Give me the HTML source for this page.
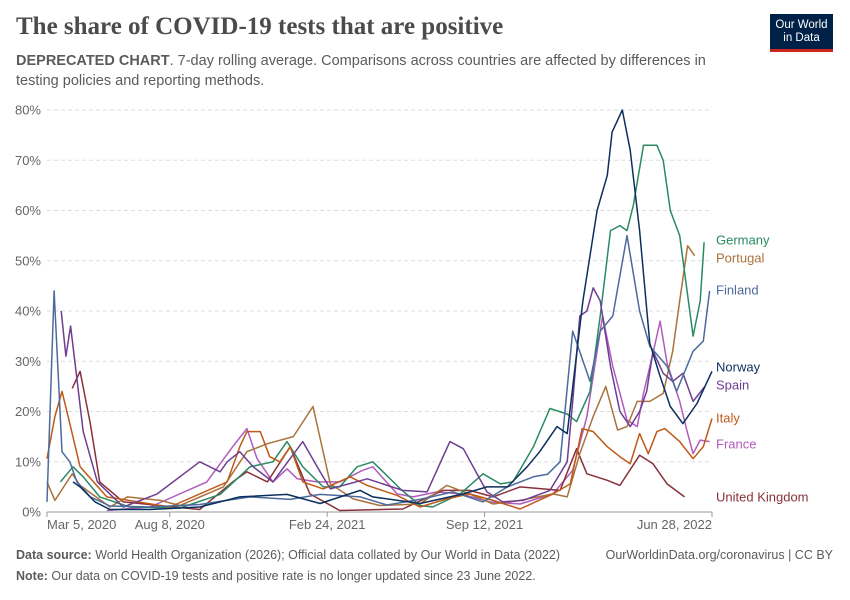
<!DOCTYPE html>
<html><head><meta charset="utf-8">
<style>
body{margin:0;background:#fff;width:850px;height:600px;overflow:hidden;font-family:"Liberation Sans",sans-serif;}
#title{position:absolute;left:16px;top:13px;font-family:"Liberation Serif",serif;font-size:25px;color:#4b4b4b;margin:0;font-weight:bold;letter-spacing:0px}
#sub{position:absolute;left:16px;top:51px;width:730px;font-size:14.5px;line-height:20px;color:#5b5b5b}
#logo{position:absolute;left:770px;top:14px;width:63px;height:38px;background:#002147;border-bottom:3px solid #ce261e;color:#fff;font-size:11.5px;line-height:13px;text-align:center;padding-top:5px;box-sizing:border-box}
.foot{position:absolute;font-size:12.5px;color:#5b5b5b}
</style></head><body>
<h1 id="title">The share of COVID-19 tests that are positive</h1>
<div id="sub"><b>DEPRECATED CHART</b>. 7-day rolling average. Comparisons across countries are affected by differences in testing policies and reporting methods.</div>
<div id="logo">Our World<br>in Data</div>
<svg id="chart" width="850" height="600" style="position:absolute;left:0;top:0"></svg>
<div class="foot" style="left:16px;top:548px"><b>Data source:</b> World Health Organization (2026); Official data collated by Our World in Data (2022)</div>
<div class="foot" style="right:17px;top:548px">OurWorldinData.org/coronavirus | CC BY</div>
<div class="foot" style="left:16px;top:569px"><b>Note:</b> Our data on COVID-19 tests and positive rate is no longer updated since 23 June 2022.</div>
<script>
const yTicks=[0,10,20,30,40,50,60,70,80];
const xTickLabels=["Mar 5, 2020","Aug 8, 2020","Feb 24, 2021","Sep 12, 2021","Jun 28, 2022"];
const xTickDays=[0,156,356,556,845];
const seriesNames=["Germany","Portugal","Finland","Norway","Spain","Italy","France","United Kingdom"];
const germanyDays=[17,33,46,67,105,169,220,258,287,305,325,351,372,394,414,449,474,490,525,554,576,592,618,639,661,673,690,703,716,728,737,745,758,775,783,792,804,821,830,835];
const germanyVals=[6,9,7,3,1,0.8,3.5,9,10,14,9,5,5,9,10,4.6,1.3,1,3.6,7.6,5.6,6,13,20.6,19.5,18,24,39,56,57,56,61,73,73,70,60,55,35,42,53.7];
const portugalDays=[0,10,32,42,80,102,144,169,224,254,280,313,338,360,389,423,474,508,537,567,601,643,661,677,694,710,725,737,750,766,783,795,804,814,823];
const portugalVals=[6,2.3,7.6,5.3,1,3,2.3,1.3,5,12,13.6,15,21,5.6,2.6,1.3,1.6,5.3,3.6,1.6,2.3,3.6,3,11.6,19,25,16.3,17,22,22,23.6,32,42,53,51];
const finlandDays=[0,9,19,29,38,55,80,131,194,258,309,347,398,432,474,516,554,585,618,636,652,668,690,703,719,737,753,766,788,800,821,834,842];
const finlandVals=[2,44,12,10,6,3,1.2,1,1.5,3,2.5,3.5,3,1.4,2.5,4,2,5,7,7.5,10,36,26,36,39,55,40,33,29,24,32,34,44];
const norwayDays=[33,42,61,80,131,194,245,305,347,398,414,474,529,559,585,610,626,648,661,681,699,712,718,731,741,753,766,779,792,808,826,845];
const norwayVals=[6,5,2,0.5,0.5,1,3,3.5,1.7,4.3,3,1.7,3.6,5,5,9,12,17,15.6,42,60,67,75.6,80,72,56,33.6,27,21,17.6,21.6,28];
const spainDays=[18,24,30,46,64,97,140,194,220,229,245,262,287,325,347,360,407,452,483,512,529,559,579,605,639,661,668,677,686,694,703,716,728,741,753,762,770,783,795,808,821,836];
const spainVals=[40,31,37,16,6,1,3.6,10,8,10,12,9,6,14,8,4.6,6.6,4.3,4,14,12.6,4,2,2.3,4.3,10,22,39,40,44.6,42,29,20,17,20,24,32,27.6,26,27.6,22,25];
const italyDays=[0,10,19,29,42,76,156,229,245,254,271,283,296,309,325,351,385,407,445,474,508,537,567,601,643,665,680,694,712,728,741,753,764,775,785,804,821,834,845];
const italyVals=[10.6,19,24,17.6,9,3,1,6,13,16,16,11,10,13,6,4.6,7,5.3,3.3,1,2.6,3.6,2.3,0.6,3.6,5.6,16.6,16,13,11,9.6,15.6,11.6,16,16.6,14,10.6,13,18.6];
const franceDays=[76,131,203,236,254,267,287,305,318,343,372,401,414,445,465,496,525,563,601,643,668,686,706,719,737,750,758,770,779,788,804,813,821,830,842];
const franceVals=[0.3,1,6,13,16.6,10.6,6,8.6,6.6,6,6,8.3,9,3.6,3,4,3.6,2,1.6,3.6,8.3,19,39,29,18.3,17,23.6,31.6,38,29.6,22,16.3,11.6,14.3,14];
const ukDays=[32,42,55,67,97,194,236,254,280,309,334,372,452,503,537,567,601,652,673,686,712,728,753,770,788,810];
const ukVals=[24.6,28,17.6,6,2,0.5,6,8,6,13,3.6,0.3,0.6,4.3,4.3,3,5,4.3,12.6,7.6,6.3,5.3,11.3,9.6,5.6,3];

const svg=document.getElementById('chart');
const NS='http://www.w3.org/2000/svg';
const x0=47,x1=712,y0=512,y80=110;
const xs=d=>x0+d*(x1-x0)/845;
const ys=v=>y0-v*(y0-y80)/80;
function mk(t,a){const e=document.createElementNS(NS,t);for(const k in a)e.setAttribute(k,a[k]);svg.appendChild(e);return e;}
yTicks.forEach(v=>{
  if(v>0){const g=mk('line',{x1:x0,x2:x1,y1:ys(v),y2:ys(v),stroke:'#ddd','stroke-dasharray':'4,3'});
  
  }
  const t=mk('text',{x:41,y:ys(v)+4.5,'text-anchor':'end','font-size':'13','fill':'#666','font-family':'Liberation Sans,sans-serif'});
  t.textContent=v+'%';
  
  
});
const ax=mk('line',{x1:x0,x2:x1,y1:y0,y2:y0,stroke:'#999'});


xTickLabels.forEach((l,i)=>{
  const x=xs(xTickDays[i]);
  const tk=mk('line',{x1:x,x2:x,y1:y0,y2:y0+5,stroke:'#999'});
  
  
  const anchor=i===0?'start':(i===xTickLabels.length-1?'end':'middle');
  const t=mk('text',{x:x,y:529,'text-anchor':anchor,'font-size':'13','fill':'#666','font-family':'Liberation Sans,sans-serif'});
  t.textContent=l;
  
  
});
const series=[
 [germanyDays,germanyVals,'#2a8a62',240],
 [portugalDays,portugalVals,'#a8733d',258],
 [finlandDays,finlandVals,'#4c6a9c',290],
 [norwayDays,norwayVals,'#0c2f5e',367],
 [spainDays,spainVals,'#6d3e91',385],
 [italyDays,italyVals,'#c05917',418],
 [franceDays,franceVals,'#b15cbd',444],
 [ukDays,ukVals,'#883039',497]];
[6,7,1,0,5,4,2,3].forEach(i=>{
  const [d,v,c]=series[i];
  const p=mk('path',{d:d.map((dd,j)=>(j?'L':'M')+xs(dd).toFixed(1)+','+ys(v[j]).toFixed(1)).join(''),fill:'none',stroke:c,'stroke-width':'1.5','stroke-linejoin':'round'});
  
  
});
series.forEach((s,i)=>{
  const t=mk('text',{x:716,y:s[3]+4.5,'font-size':'13','fill':s[2],'font-family':'Liberation Sans,sans-serif'});
  t.textContent=seriesNames[i];
  
  
});
</script>
</body></html>
